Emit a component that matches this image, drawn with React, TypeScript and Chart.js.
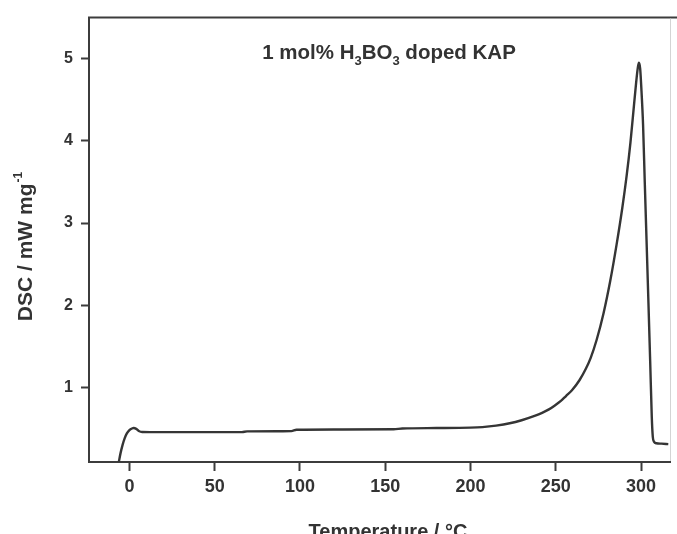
import React, { useEffect, useRef } from "react";
import { Chart, registerables } from "chart.js";

Chart.register(...registerables);

// Temperature (°C) and DSC signal (mW mg^-1)
const temperature: number[] = [
  -6.4, -5.2, -4, -2.8, -1.5, 0, 1.5, 2.5, 4, 5.5, 7.5, 12, 30, 50, 66, 69,
  90, 95, 98, 120, 155, 160, 180, 200, 207, 215, 223, 230, 238, 242, 246,
  249.5, 253, 256, 259.5, 264, 267.5, 270.5, 274, 278, 282, 285.7, 289,
  291.6, 293.8, 295.5, 297.1, 298.2, 298.8, 299.5, 300.3, 301.2, 302.2,
  303.3, 304.4, 305.4, 306.3, 306.9, 307.6, 309, 312, 316,
];
const dsc: number[] = [
  0.07, 0.2, 0.3, 0.38, 0.44, 0.48, 0.5, 0.505, 0.495, 0.47, 0.457, 0.455,
  0.455, 0.455, 0.456, 0.465, 0.466, 0.468, 0.485, 0.488, 0.49, 0.5, 0.505,
  0.51, 0.517, 0.535, 0.563, 0.6, 0.655, 0.69, 0.732, 0.78, 0.835, 0.895,
  0.965, 1.09, 1.22, 1.36, 1.58, 1.9, 2.3, 2.74, 3.18, 3.58, 3.98, 4.35, 4.7,
  4.9, 4.95, 4.88, 4.6, 4.2, 3.5, 2.75, 2.0, 1.3, 0.65, 0.4, 0.34, 0.32,
  0.315, 0.31,
];
const xTicks: number[] = [0, 50, 100, 150, 200, 250, 300];
const yTicks: number[] = [1, 2, 3, 4, 5];

const FONT = "'Liberation Sans', Arial, sans-serif";
const INK = "#333333";

const textPlugin = {
  id: "customTexts",
  afterDraw(chart: any) {
    const ctx: CanvasRenderingContext2D = chart.ctx;
    const area = chart.chartArea;
    ctx.save();
    // frame: top and right
    ctx.strokeStyle = "#3c3c3c";
    ctx.lineWidth = 2;
    ctx.beginPath();
    ctx.moveTo(area.left - 1, area.top);
    ctx.lineTo(chart.width, area.top);
    ctx.stroke();
    ctx.strokeStyle = "#d4d4d4";
    ctx.lineWidth = 1;
    ctx.beginPath();
    ctx.moveTo(area.right + 0.5, area.top + 1);
    ctx.lineTo(area.right + 0.5, area.bottom - 1);
    ctx.stroke();

    ctx.fillStyle = INK;
    ctx.textBaseline = "alphabetic";
    ctx.textAlign = "left";

    // in-plot label with subscripts
    const big = `bold 20.5px ${FONT}`;
    const small = `bold 13px ${FONT}`;
    const segs: [string, boolean][] = [
      ["1 mol% H", false],
      ["3", true],
      ["BO", false],
      ["3", true],
      [" doped KAP", false],
    ];
    let total = 0;
    for (const [t, sub] of segs) {
      ctx.font = sub ? small : big;
      total += ctx.measureText(t).width;
    }
    let x = 389 - total / 2;
    const base = 59;
    for (const [t, sub] of segs) {
      ctx.font = sub ? small : big;
      ctx.fillText(t, x, sub ? base + 6 : base);
      x += ctx.measureText(t).width;
    }

    // y title with superscript
    ctx.save();
    ctx.translate(32, 0);
    ctx.rotate(-Math.PI / 2);
    const yMain = "DSC / mW mg";
    const ySup = "-1";
    ctx.font = `bold 21px ${FONT}`;
    const wMain = ctx.measureText(yMain).width;
    ctx.font = `bold 12px ${FONT}`;
    const wSup = ctx.measureText(ySup).width;
    const cy = 247;
    const start = -(cy + (wMain + wSup) / 2);
    ctx.font = `bold 21px ${FONT}`;
    ctx.fillText(yMain, start, 0);
    ctx.font = `bold 12px ${FONT}`;
    ctx.fillText(ySup, start + wMain + 1, -10);
    ctx.restore();

    // x title
    ctx.font = `bold 20px ${FONT}`;
    ctx.textAlign = "center";
    ctx.fillText("Temperature / °C", 388, 538);
    ctx.restore();
  },
};

export default function App() {
  const ref = useRef<HTMLCanvasElement | null>(null);
  useEffect(() => {
    if (!ref.current) return;
    const points = temperature.map((t, i) => ({ x: t, y: dsc[i] }));
    const chart = new Chart(ref.current, {
      type: "line",
      data: {
        datasets: [
          {
            data: points,
            borderColor: "#353535",
            borderWidth: 2.4,
            pointRadius: 0,
            fill: false,
            cubicInterpolationMode: "monotone",
          },
        ],
      },
      options: {
        animation: false,
        responsive: false,
        devicePixelRatio: 1,
        layout: { padding: { left: 0, top: 13, right: 7, bottom: 0 } },
        plugins: {
          legend: { display: false },
          tooltip: { enabled: false },
          title: { display: false },
        },
        scales: {
          x: {
            type: "linear",
            min: -23.7,
            max: 317,
            afterFit: (s: any) => {
              s.height = 72;
            },
            afterBuildTicks: (s: any) => {
              s.ticks = xTicks.map((v) => ({ value: v }));
            },
            grid: {
              drawOnChartArea: false,
              drawTicks: true,
              tickLength: 9,
              tickWidth: 2,
              tickColor: "#3c3c3c",
            },
            border: { display: true, color: "#3c3c3c", width: 2 },
            ticks: {
              padding: 5,
              color: INK,
              font: { family: FONT, size: 18, weight: "bold" },
              maxRotation: 0,
            },
          },
          y: {
            type: "linear",
            min: 0.092,
            max: 5.5,
            afterFit: (s: any) => {
              s.width = 89;
            },
            afterBuildTicks: (s: any) => {
              s.ticks = yTicks.map((v) => ({ value: v }));
            },
            grid: {
              drawOnChartArea: false,
              drawTicks: true,
              tickLength: 8,
              tickWidth: 2,
              tickColor: "#3c3c3c",
            },
            border: { display: true, color: "#3c3c3c", width: 2 },
            ticks: {
              padding: 8,
              color: INK,
              font: { family: FONT, size: 16, weight: "bold" },
            },
          },
        },
      },
      plugins: [textPlugin],
    });
    return () => chart.destroy();
  }, []);

  return (
    <div
      style={{
        position: "fixed",
        left: 0,
        top: 0,
        width: 677,
        height: 534,
        background: "#ffffff",
      }}
    >
      <canvas ref={ref} width={677} height={534} style={{ width: 677, height: 534 }} />
    </div>
  );
}
